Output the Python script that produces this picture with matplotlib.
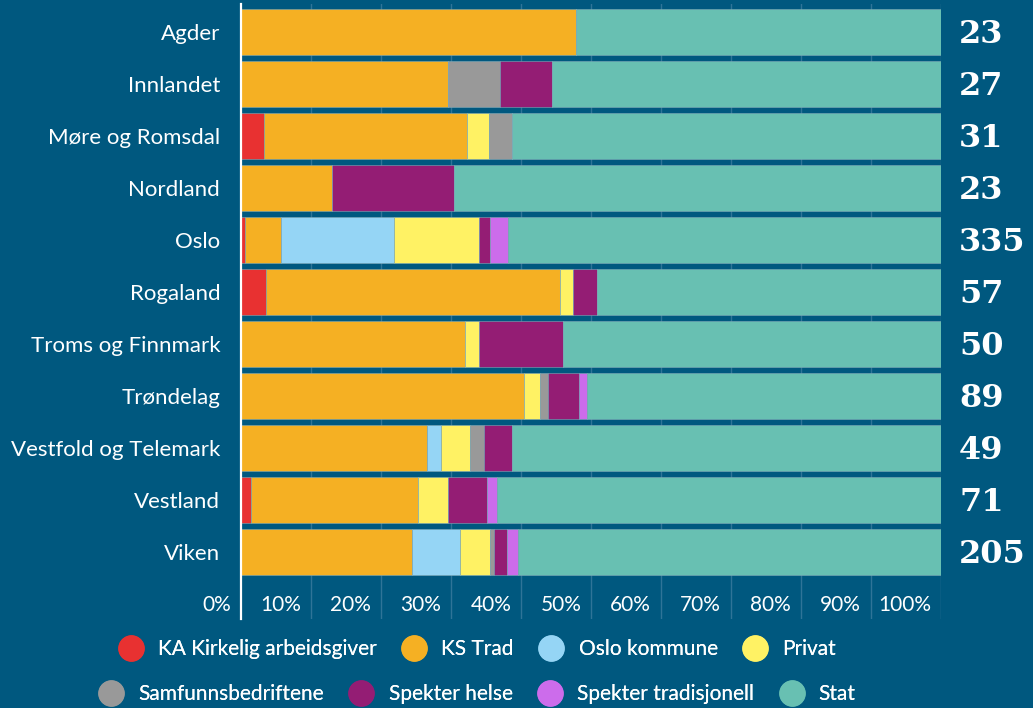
import matplotlib
matplotlib.use("Agg")
import matplotlib.pyplot as plt
import numpy as np
from matplotlib.lines import Line2D

# counts per region (total shown on the right)
regions = ["Agder", "Innlandet", "Møre og Romsdal", "Nordland", "Oslo", "Rogaland",
           "Troms og Finnmark", "Trøndelag", "Vestfold og Telemark", "Vestland", "Viken"]
totals = [23, 27, 31, 23, 335, 57, 50, 89, 49, 71, 205]

ka_kirkelig = [0, 0, 1, 0, 2, 2, 0, 0, 0, 1, 0]
ks_trad = [11, 8, 9, 3, 17, 24, 16, 36, 13, 17, 50]
oslo_kommune = [0, 0, 0, 0, 54, 0, 0, 0, 1, 0, 14]
privat = [0, 0, 1, 0, 41, 1, 1, 2, 2, 3, 9]
samfunn = [0, 2, 1, 0, 0, 0, 0, 1, 1, 0, 1]
spekter_helse = [0, 2, 0, 4, 5, 2, 6, 4, 2, 4, 4]
spekter_trad = [0, 0, 0, 0, 9, 0, 0, 1, 0, 1, 3]
stat = [12, 15, 19, 16, 207, 28, 27, 45, 30, 45, 124]

series_names = ["KA Kirkelig arbeidsgiver", "KS Trad", "Oslo kommune", "Privat",
                "Samfunnsbedriftene", "Spekter helse", "Spekter tradisjonell", "Stat"]
series = [ka_kirkelig, ks_trad, oslo_kommune, privat, samfunn, spekter_helse, spekter_trad, stat]
colors = ["#e83131", "#f5b023", "#95d5f5", "#fff264", "#999999", "#941d74", "#cc6ceb", "#68c0b2"]

bg = "#00587f"
tick_pcts = list(range(0, 101, 10))

plt.rcParams['font.family'] = ['Lato', 'DejaVu Sans']

fig = plt.figure(figsize=(10.33, 7.08), dpi=100, facecolor=bg)
ax = fig.add_axes([241/1033, 89/708, 700/1033, 615/708])
ax.set_facecolor(bg)

y = np.arange(len(regions))
tot = np.array(totals, dtype=float)
left = np.zeros(len(regions))
for name, vals, col in zip(series_names, series, colors):
    w = np.array(vals) / tot * 100
    ax.barh(y, w, left=left, height=0.885, color=col, edgecolor="#7fa9b8",
            linewidth=0.4, zorder=2)
    left += w

ax.set_xlim(0, 100)
ax.set_ylim(11.29, -0.538)

# gridlines behind bars
for p in tick_pcts[1:]:
    ax.axvline(p, color="#2f7498", lw=1, zorder=1)

# percent labels sit left of their gridline
for p in tick_pcts:
    ax.text(p - 1.4, 11.02, f"{p}%", ha="right", va="center", color="white", fontsize=15)

# totals on the right
for i, t in enumerate(totals):
    ax.text(102.6, i + 0.05, str(t), ha="left", va="center", color="white", fontsize=23,
            fontweight="bold", family="DejaVu Serif", clip_on=False)

ax.set_yticks(y)
ax.set_yticklabels(regions, color="white", fontsize=16)
ax.tick_params(axis="y", length=0, pad=15)
ax.set_xticks([])
for s in ["top", "right", "bottom"]:
    ax.spines[s].set_visible(False)
ax.spines["left"].set_color("white")
ax.spines["left"].set_linewidth(1.6)
ax.spines["left"].set_zorder(3)

handles = [Line2D([], [], marker="o", ls="", markersize=19, markerfacecolor=c,
                  markeredgewidth=0) for c in colors]
rows = [(0, 4, 649), (4, 8, 694)]
for a, b, ypix in rows:
    leg = fig.legend(handles[a:b], series_names[a:b], ncol=4, loc="center",
                     bbox_to_anchor=(0.462, 1 - ypix/708), frameon=False,
                     labelcolor="white", fontsize=15, handletextpad=0.7,
                     columnspacing=1.2, handlelength=1.2)
    fig.add_artist(leg)

fig.savefig("out.png", dpi=100, facecolor=bg)
